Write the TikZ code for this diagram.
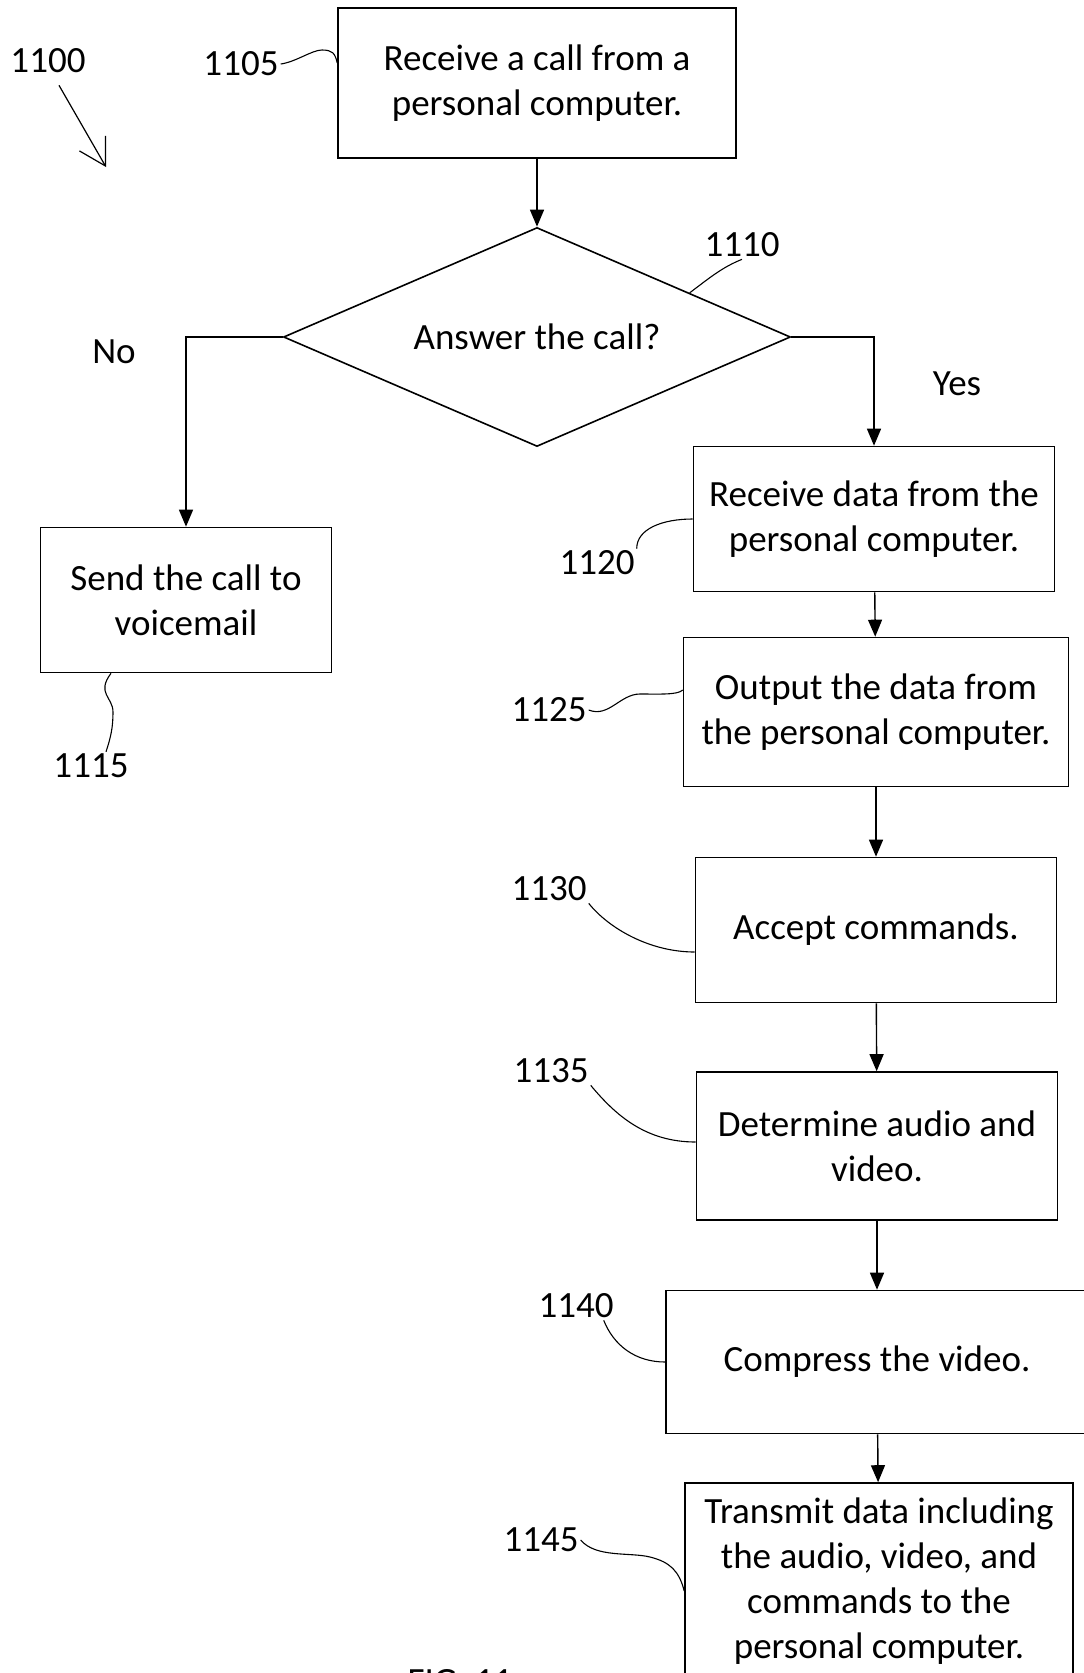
\documentclass[tikz,border=0pt]{standalone}
\usepackage{fontspec}
\setmainfont{Carlito}
\usetikzlibrary{arrows.meta,shapes.geometric,calc}

\begin{document}
\begin{tikzpicture}[x=1pt,y=-1pt,
  every node/.style={font=\fontsize{37}{45}\selectfont},
  stepbox/.style={draw,line width=1.6pt,align=center,inner sep=0pt},
  decision/.style={draw,line width=1.6pt,diamond,aspect=2.3,inner sep=0pt},
  flow/.style={line width=1.4pt,-{Triangle[length=17pt,width=14pt]}},
  leader/.style={line width=1.1pt},
  pointer/.style={line width=1.2pt,-{Straight Barb[length=26pt,width=30pt]}},
  tag/.style={inner sep=2pt}]
  \useasboundingbox (0,0) rectangle (1084,1673);

  % steps
  \node[stepbox,minimum width=398pt,minimum height=150pt] (b1105) at (537,83) {Receive a call from a\\personal computer.};
  \node[decision,minimum width=507pt,minimum height=219pt] (d1110) at (537,337) {Answer the call?};
  \node[stepbox,minimum width=291pt,minimum height=145pt] (b1115) at (186,600) {Send the call to\\voicemail};
  \node[stepbox,minimum width=361pt,minimum height=145pt] (b1120) at (874,519) {Receive data from the\\personal computer.};
  \node[stepbox,minimum width=385pt,minimum height=149pt] (b1125) at (876,712) {Output the data from\\the personal computer.};
  \node[stepbox,minimum width=361pt,minimum height=145pt] (b1130) at (876,930) {Accept commands.};
  \node[stepbox,minimum width=361pt,minimum height=148pt] (b1135) at (877,1146) {Determine audio and\\video.};
  \node[stepbox,minimum width=422pt,minimum height=143pt] (b1140) at (877,1362) {Compress the video.};
  \node[stepbox,minimum width=388pt,minimum height=196pt] (b1145) at (879,1581) {Transmit data including\\the audio, video, and\\commands to the\\personal computer.};

  % flow
  \draw[flow] (b1105) -- (d1110);
  \draw[flow] (d1110.west) -| (b1115);
  \draw[flow] (d1110.east) -| (b1120);
  \draw[flow] (b1120) -- (b1125);
  \draw[flow] (b1125) -- (b1130);
  \draw[flow] (b1130) -- (b1135);
  \draw[flow] (b1135) -- (b1140);
  \draw[flow] (b1140) -- (b1145);
  \node (no) at (114,352) {No};
  \node (yes) at (957,384) {Yes};

  % reference numerals
  \node[tag] (l1100) at (48,61) {1100};
  \node[tag] (l1105) at (241,64) {1105};
  \node[tag] (l1110) at (742,245) {1110};
  \node[tag] (l1115) at (91,766) {1115};
  \node[tag] (l1120) at (597,563) {1120};
  \node[tag] (l1125) at (549,710) {1125};
  \node[tag] (l1130) at (549,889) {1130};
  \node[tag] (l1135) at (551,1071) {1135};
  \node[tag] (l1140) at (576,1306) {1140};
  \node[tag] (l1145) at (541,1540) {1145};
  \coordinate (a1100) at (106,167);
  \draw[pointer] ([xshift=11pt,yshift=-10pt]l1100.south) -- (a1100);
  \draw[leader] (l1105.east) .. controls +(15,-2) and +(-10,0) .. (322,50) .. controls +(10,0) and +(-2,-10) .. ([yshift=20pt]b1105.west);
  \draw[leader] (l1110.south) .. controls +(-20,8) and +(20,-15) .. ($(d1110.north)!0.6!(d1110.east)$);
  \draw[leader] ([xshift=-75pt]b1115.south) .. controls +(-15,20) and +(0,-15) .. (113,712) .. controls +(0,15) and +(5,-15) .. ([xshift=15pt]l1115.north);
  \draw[leader] (l1120.north east) .. controls +(0,-20) and +(-30,0) .. (b1120.west);
  \draw[leader] (l1125.east) .. controls +(20,8) and +(-20,0) .. (640,694) .. controls +(20,0) and +(-5,5) .. ([yshift=22pt]b1125.west);
  \draw[leader] (l1130.south east) .. controls +(20,25) and +(-45,0) .. ([yshift=-22pt]b1130.west);
  \draw[leader] (l1135.south east) .. controls +(25,30) and +(-50,0) .. ([yshift=4pt]b1135.west);
  \draw[leader] ([xshift=-12pt]l1140.south east) .. controls +(10,25) and +(-30,0) .. (b1140.west);
  \draw[leader] (l1145.east) .. controls +(15,18) and +(-20,-5) .. (650,1557) .. controls +(20,5) and +(-5,-20) .. ([yshift=-10pt]b1145.west);

  \node (fig) at (460,1682) {FIG. 11};
\end{tikzpicture}
\end{document}
